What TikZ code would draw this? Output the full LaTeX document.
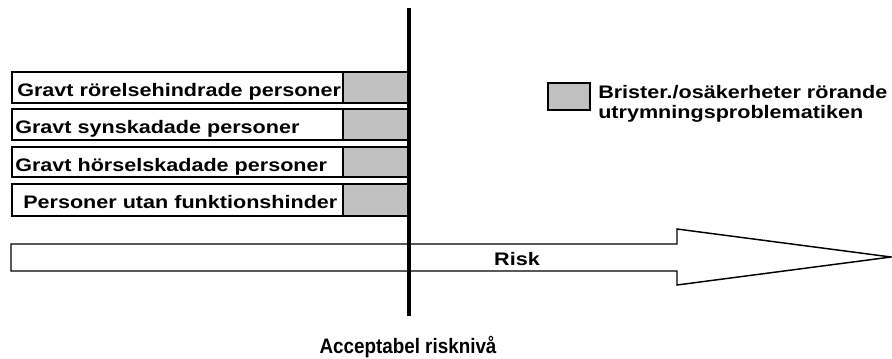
\documentclass[tikz,border=0pt]{standalone}
\usepackage{fontspec}
\setmainfont{Liberation Sans}[FakeStretch=1.19]
\newfontfamily\narrowfont{Liberation Sans}[FakeStretch=0.9]
\usepackage{tikz}
\definecolor{boxgray}{RGB}{192,192,192}
\tikzset{
  frame/.style={draw=black,line width=1.1pt},
  lbl/.style={inner sep=0pt,anchor=base west,font=\bfseries\fontsize{13.6}{16}\selectfont}
}
\begin{document}
\begin{tikzpicture}[x=0.75pt,y=-0.75pt]
    \useasboundingbox (0,0) rectangle (892,358);
    \begin{scope}
      % groups
      \draw[frame,fill=white] (12,72)  rectangle (343,103);
      \draw[frame,fill=boxgray] (343,72) rectangle (409,103);
      \draw[frame,fill=white] (12,109)  rectangle (343,140);
      \draw[frame,fill=boxgray] (343,109) rectangle (409,140);
      \draw[frame,fill=white] (12,147)  rectangle (343,177);
      \draw[frame,fill=boxgray] (343,147) rectangle (409,177);
      \draw[frame,fill=white] (12,184)  rectangle (343,216);
      \draw[frame,fill=boxgray] (343,184) rectangle (409,216);
      \node[lbl] (motor) at (17,96)  {Gravt rörelsehindrade personer};
      \node[lbl] (syn)   at (15,133) {Gravt synskadade personer};
      \node[lbl] (hors)  at (15,171) {Gravt hörselskadade personer};
      \node[lbl] (utan)  at (23,208) {Personer utan funktionshinder};
      % legend
      \draw[frame,fill=boxgray] (548,83) rectangle (590,110);
      \node[lbl] (brist) at (598,98)  {Brister./osäkerheter rörande};
      \node[lbl] (utrym) at (598,118) {utrymningsproblematiken};
      % risk arrow
      \draw[frame,fill=white] (11,244) -- (677,244) -- (677,229) -- (891,257)
        -- (677,285) -- (677,271) -- (11,271) -- cycle;
      \node[lbl,anchor=base] (risk) at (517,265) {Risk};
      % acceptable level
      \draw[line width=3.2pt] (409,8) -- (409,316);
      \node[lbl,anchor=base,font=\narrowfont\bfseries\fontsize{15.7}{18}\selectfont] (niva) at (408,353) {Acceptabel risknivå};
    \end{scope}
  \end{tikzpicture}
\end{document}
